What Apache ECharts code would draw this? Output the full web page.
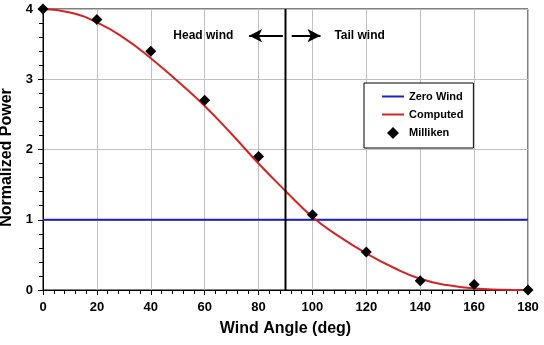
<!DOCTYPE html>
<html>
<head>
<meta charset="utf-8">
<script src="https://cdn.jsdelivr.net/npm/echarts@6/dist/echarts.min.js"></script>
<style>
  html, body { margin: 0; padding: 0; background: #fff; }
  #chart { width: 544px; height: 345px; }
</style>
</head>
<body>
<div id="chart"></div>
<script>
// Wind angle (deg) for the computed curve
const computedAngles = [0, 10, 20, 30, 40, 50, 60, 70, 80, 90, 100, 110, 120, 130, 140, 150, 160, 170, 180];
// Computed normalized power
const computedPower = [4.0, 3.95, 3.81, 3.59, 3.30, 2.97, 2.62, 2.22, 1.80, 1.41, 1.04, 0.76, 0.52, 0.32, 0.16, 0.07, 0.02, 0.005, 0.0];
// Milliken measured points
const millikenAngles = [0, 20, 40, 60, 80, 100, 120, 140, 160, 180];
const millikenPower = [4.0, 3.85, 3.40, 2.70, 1.90, 1.07, 0.54, 0.13, 0.08, 0.0];
// Zero-wind reference level
const zeroWindLevel = 1;
// Boundary between head wind and tail wind
const boundaryAngle = 90;

const font = 'Liberation Sans, Arial, sans-serif';
const diamondIcon = 'path://M5,0 L10,5 L5,10 L0,5 Z';
const lineIcon = 'path://M0,0 L22,0 L22,2 L0,2 Z';

const chart = echarts.init(document.getElementById('chart'), null, { renderer: 'canvas' });

chart.setOption({
  animation: false,
  backgroundColor: '#ffffff',
  grid: {
    left: 43, right: 16, top: 9, bottom: 55,
    outerBoundsMode: 'none', containLabel: false,
    show: true, borderColor: '#000', borderWidth: 1
  },
  xAxis: {
    type: 'value', min: 0, max: 180, interval: 20,
    name: 'Wind Angle (deg)', nameLocation: 'middle', nameGap: 31,
    nameTextStyle: { fontFamily: font, fontWeight: 'bold', fontSize: 16, color: '#000' },
    axisLine: { lineStyle: { color: '#000', width: 1 } },
    axisTick: { show: true, length: 5, inside: false, lineStyle: { color: '#000' } },
    minorTick: { show: true, splitNumber: 5, length: 4, lineStyle: { color: '#000' } },
    axisLabel: { fontFamily: font, fontWeight: 'bold', fontSize: 13, color: '#000', margin: 11 },
    splitLine: { show: true, lineStyle: { color: '#c0c0c0', width: 1 } }
  },
  yAxis: {
    type: 'value', min: 0, max: 4, interval: 1,
    name: 'Normalized Power', nameLocation: 'middle', nameGap: 22, nameRotate: 90,
    nameTextStyle: { fontFamily: font, fontWeight: 'bold', fontSize: 16, color: '#000', padding: [0, 16, 0, 0] },
    axisLine: { show: true, lineStyle: { color: '#000', width: 1 } },
    axisTick: { show: true, length: 5, lineStyle: { color: '#000' } },
    minorTick: { show: true, splitNumber: 5, length: 4, lineStyle: { color: '#000' } },
    axisLabel: { fontFamily: font, fontWeight: 'bold', fontSize: 13, color: '#000', margin: 10 },
    splitLine: { show: true, lineStyle: { color: '#c0c0c0', width: 1 } }
  },
  legend: {
    orient: 'vertical',
    left: 364, top: 83,
    padding: [8, 10, 9, 18],
    itemGap: 7,
    itemWidth: 22, itemHeight: 12,
    borderColor: '#000', borderWidth: 1, borderRadius: 0,
    backgroundColor: '#fff',
    textStyle: { fontFamily: font, fontWeight: 'bold', fontSize: 11, color: '#000' },
    data: [
      { name: 'Zero Wind', icon: lineIcon },
      { name: 'Computed', icon: lineIcon },
      { name: 'Milliken', icon: diamondIcon, itemStyle: { opacity: 1 } }
    ]
  },
  series: [
    {
      name: 'Zero Wind', type: 'line', symbol: 'none', silent: true,
      data: [[0, zeroWindLevel], [180, zeroWindLevel]],
      lineStyle: { color: '#1f1fc4', width: 2 }, itemStyle: { color: '#1f1fc4' }, z: 3
    },
    {
      name: 'Computed', type: 'line', symbol: 'none', smooth: true,
      data: computedAngles.map((a, i) => [a, computedPower[i]]),
      lineStyle: { color: '#d42424', width: 2 }, itemStyle: { color: '#d42424' }, z: 4
    },
    {
      name: 'Milliken', type: 'scatter', symbol: 'diamond', symbolSize: 11,
      data: millikenAngles.map((a, i) => [a, millikenPower[i]]),
      itemStyle: { color: '#000', opacity: 1 }, z: 6
    },
    {
      name: 'boundary', type: 'line', symbol: 'none', silent: true,
      data: [[boundaryAngle, 0], [boundaryAngle, 4]],
      lineStyle: { color: '#000', width: 2 }, z: 5,
      markLine: {
        silent: true, symbol: ['none', 'arrow'], symbolSize: [10, 13],
        lineStyle: { color: '#000', width: 2, type: 'solid' },
        label: { show: false },
        data: [
          [{ coord: [89, 3.62] }, { coord: [76.5, 3.62] }],
          [{ coord: [92.3, 3.62] }, { coord: [103, 3.62] }]
        ]
      },
      markPoint: {
        silent: true, symbol: 'circle', symbolSize: 0,
        label: { show: true, fontFamily: font, fontWeight: 'bold', fontSize: 12, color: '#000', formatter: p => p.name },
        data: [
          { name: 'Head wind', coord: [59.5, 3.62] },
          { name: 'Tail wind', coord: [117.5, 3.62] }
        ]
      }
    }
  ]
});
</script>
</body>
</html>
